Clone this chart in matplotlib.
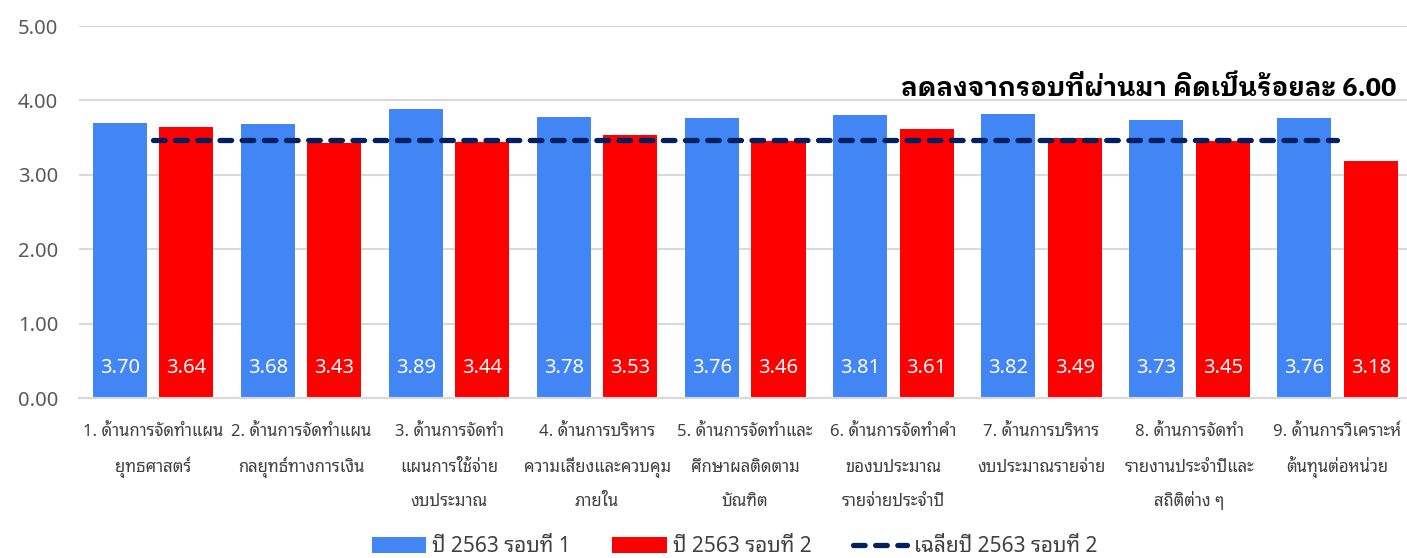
import matplotlib
matplotlib.use('Agg')
import matplotlib.pyplot as plt
import numpy as np

plt.rcParams['font.family'] = ['Noto Sans Thai Looped', 'DejaVu Sans']

categories = [
    '1. ด้านการจัดทำแผน\nยุทธศาสตร์',
    '2. ด้านการจัดทำแผน\nกลยุทธ์ทางการเงิน',
    '3. ด้านการจัดทำ\nแผนการใช้จ่าย\nงบประมาณ',
    '4. ด้านการบริหาร\nความเสี่ยงและควบคุม\nภายใน',
    '5. ด้านการจัดทำและ\nศึกษาผลติดตาม\nบัณฑิต',
    '6. ด้านการจัดทำคำ\nของบประมาณ\nรายจ่ายประจำปี',
    '7. ด้านการบริหาร\nงบประมาณรายจ่าย',
    '8. ด้านการจัดทำ\nรายงานประจำปีและ\nสถิติต่าง ๆ',
    '9. ด้านการวิเคราะห์\nต้นทุนต่อหน่วย',
]
round1 = [3.70, 3.68, 3.89, 3.78, 3.76, 3.81, 3.82, 3.73, 3.76]
round2 = [3.64, 3.43, 3.44, 3.53, 3.46, 3.61, 3.49, 3.45, 3.18]
avg_round2 = [3.47] * len(categories)

series_names = ['ปี 2563 รอบที่ 1', 'ปี 2563 รอบที่ 2', 'เฉลี่ยปี 2563 รอบที่ 2']
note = 'ลดลงจากรอบที่ผ่านมา คิดเป็นร้อยละ 6.00'

BLUE = '#4285f4'
RED = '#ff0000'
NAVY = '#002060'

fig = plt.figure(figsize=(14.07, 5.58), dpi=100)
ax = fig.add_axes([0.0561, 0.2867, 0.9439, 0.6667])

x = np.arange(len(categories))
w = 0.365
b1 = ax.bar(x - 0.225, round1, w, color=BLUE, label=series_names[0], zorder=2)
b2 = ax.bar(x + 0.225, round2, w, color=RED, label=series_names[1], zorder=2)
line, = ax.plot(x, avg_round2, color=NAVY, lw=3.8, dashes=(2.2, 2.0),
                dash_capstyle='round', label=series_names[2], zorder=3)

# value labels sit at the foot of each bar
for bars, vals in ((b1, round1), (b2, round2)):
    for rect, v in zip(bars, vals):
        ax.text(rect.get_x() + rect.get_width() / 2, 0.4, f'{v:.2f}',
                ha='center', va='center', color='white', fontsize=14.5, zorder=4)

ax.set_xlim(-0.5, 8.47)
ax.set_ylim(0, 5)
yt = np.arange(0, 5.01, 1)
ax.set_yticks(yt)
ax.set_yticklabels([f'{t:.2f}' for t in yt])
ax.set_xticks(x)
ax.set_xticklabels([])
ax.tick_params(axis='y', length=0, pad=15, labelsize=14.5, labelcolor='#595959')
ax.tick_params(axis='x', length=0)
ax.grid(axis='y', color='#d9d9d9', lw=1.5, zorder=0)
for s in ('top', 'right', 'left'):
    ax.spines[s].set_visible(False)
ax.spines['bottom'].set_color('#d9d9d9')
ax.spines['bottom'].set_linewidth(1.5)

# category names, one text per line so the baselines stay evenly spaced
baselines = [-27.4, -53.6, -78.0]
for xi, name in zip(x, categories):
    for j, part in enumerate(name.split('\n')):
        ax.annotate(part, xy=(xi, 0), xycoords=('data', 'axes fraction'),
                    xytext=(0, baselines[j]), textcoords='offset points',
                    ha='center', va='baseline', fontsize=12, color='#404040',
                    annotation_clip=False)

fig.text(0.9925, 0.842, note, ha='right', va='center', fontsize=18.5,
         fontweight='bold', color='black',
         family=['IBM Plex Sans Thai Looped', 'DejaVu Sans'])

fig.legend(handles=[b1, b2, line], loc='center', bbox_to_anchor=(0.522, 0.02),
           ncol=3, frameon=False, fontsize=15, handlelength=2.6,
           handleheight=0.75, columnspacing=2.0, handletextpad=0.3,
           labelcolor='#404040')

fig.savefig('out.png', dpi=100)
